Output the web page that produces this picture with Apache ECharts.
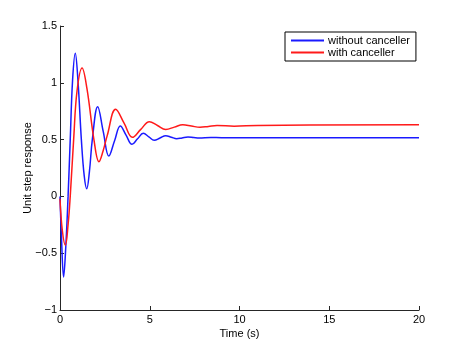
<!DOCTYPE html>
<html>
<head>
<meta charset="utf-8">
<script src="https://cdn.jsdelivr.net/npm/echarts@6/dist/echarts.min.js"></script>
<style>
  html, body { margin: 0; padding: 0; background: #fff; }
  #chart { width: 463px; height: 348px; }
</style>
</head>
<body>
<div id="chart"></div>
<script>
// Values: [time (s), response]
const withoutCanceller = [
  [0, 0], [0.08, -0.35], [0.2, -0.71], [0.32, -0.45], [0.45, 0], [0.57, 0.5],
  [0.7, 1.02], [0.85, 1.26], [1.0, 1.02], [1.19, 0.5], [1.35, 0.18], [1.49, 0.068],
  [1.64, 0.22], [1.8, 0.5], [2.1, 0.79], [2.41, 0.57], [2.72, 0.355], [3.04, 0.49],
  [3.36, 0.62], [3.68, 0.54], [4.01, 0.458], [4.32, 0.507], [4.64, 0.555], [4.95, 0.525],
  [5.25, 0.494], [5.57, 0.514], [5.89, 0.534], [6.2, 0.521], [6.5, 0.508], [6.8, 0.515],
  [7.13, 0.522], [7.44, 0.518], [7.75, 0.514], [8.4, 0.519], [9, 0.517], [20, 0.517]
];
const withCanceller = [
  [0, -0.02], [0.13, -0.3], [0.3, -0.43], [0.45, -0.25], [0.57, 0], [0.76, 0.5],
  [0.95, 0.93], [1.23, 1.13], [1.5, 0.95], [1.89, 0.5], [2.17, 0.305], [2.4, 0.4],
  [2.63, 0.535], [3.1, 0.767], [3.57, 0.645], [4.03, 0.52], [4.5, 0.59], [4.98, 0.658],
  [5.43, 0.624], [5.89, 0.59], [6.37, 0.61], [6.84, 0.631], [7.32, 0.62], [7.8, 0.608],
  [8.27, 0.616], [8.75, 0.624], [9.7, 0.618], [11, 0.625], [20, 0.63]
];
const seriesNames = ['without canceller', 'with canceller'];
const xTicks = [0, 5, 10, 15, 20];
const yTicks = [-1, -0.5, 0, 0.5, 1, 1.5];

const font = 'Liberation Sans, Arial, sans-serif';
const axisColor = '#262626';

const chart = echarts.init(document.getElementById('chart'));

const axisCommon = {
  axisLine: { show: true, onZero: false, lineStyle: { color: axisColor, width: 1 } },
  axisTick: { show: true, inside: true, length: 4, lineStyle: { color: axisColor } },
  splitLine: { show: false },
  nameMoveOverlap: false,
  nameTextStyle: { color: '#000', fontFamily: font, fontSize: 11 }
};

chart.setOption({
  animation: false,
  backgroundColor: '#fff',
  grid: { left: 60, right: 44, top: 26, bottom: 38 },
  legend: {
    orient: 'vertical',
    left: 285,
    top: 32,
    data: seriesNames,
    icon: 'rect',
    itemWidth: 33,
    itemHeight: 2,
    itemGap: 1,
    padding: [3, 6, 3, 6],
    backgroundColor: '#fff',
    borderColor: '#000',
    borderWidth: 1,
    borderRadius: 0,
    textStyle: { color: '#000', fontFamily: font, fontSize: 11, padding: [0, 0, 0, -1] }
  },
  xAxis: Object.assign({}, axisCommon, {
    type: 'value',
    min: xTicks[0],
    max: xTicks[xTicks.length - 1],
    interval: 5,
    name: 'Time (s)',
    nameLocation: 'middle',
    nameGap: 18,
    axisLabel: { color: '#000', fontFamily: font, fontSize: 11, margin: 4 }
  }),
  yAxis: Object.assign({}, axisCommon, {
    type: 'value',
    min: yTicks[0],
    max: yTicks[yTicks.length - 1],
    interval: 0.5,
    name: 'Unit step response',
    nameLocation: 'middle',
    nameGap: 27,
    axisLabel: {
      color: '#000', fontFamily: font, fontSize: 11, margin: 3,
      formatter: (v) => String(v).replace('-', '\u2212')
    }
  }),
  series: [
    {
      name: seriesNames[0],
      type: 'line',
      data: withoutCanceller,
      smooth: 0.4,
      showSymbol: false,
      lineStyle: { color: '#1a1aff', width: 1.5 },
      itemStyle: { color: '#1a1aff' }
    },
    {
      name: seriesNames[1],
      type: 'line',
      data: withCanceller,
      smooth: 0.4,
      showSymbol: false,
      lineStyle: { color: '#ff1a1a', width: 1.5 },
      itemStyle: { color: '#ff1a1a' }
    }
  ]
});
</script>
</body>
</html>
